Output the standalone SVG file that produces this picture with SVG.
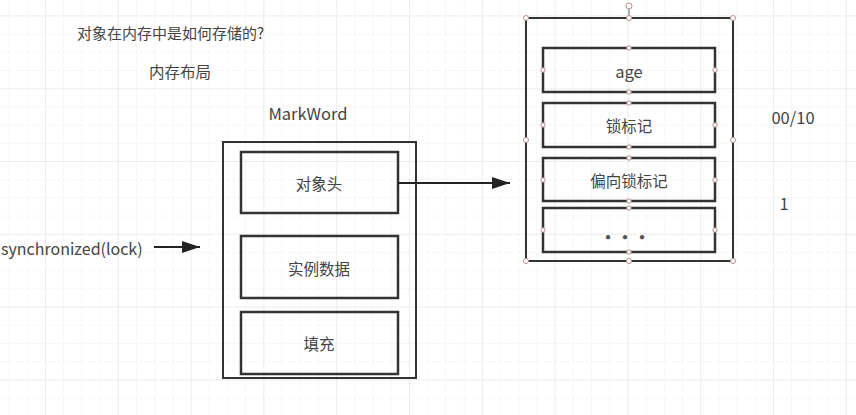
<svg xmlns="http://www.w3.org/2000/svg" width="856" height="415" viewBox="0 0 856 415">
<defs>
<pattern id="minor" x="8.6" y="15.4" width="18.2" height="18.2" patternUnits="userSpaceOnUse">
<path d="M0 0H18.2M0 0V18.2" fill="none" stroke="#f0f0f0" stroke-width="1"/>
</pattern>
<pattern id="major" x="45" y="15.4" width="72.8" height="72.8" patternUnits="userSpaceOnUse">
<path d="M0 0H72.8M0 0V72.8" fill="none" stroke="#e4e4e4" stroke-width="1"/>
</pattern>
<marker id="arr2" viewBox="0 0 18 12" refX="18" refY="6" markerWidth="18" markerHeight="12" markerUnits="userSpaceOnUse" orient="auto">
<path d="M0 0L18 6L0 12Z" fill="#222"/>
</marker>
</defs>
<style>
text{font-family:"Noto Sans CJK SC","Noto Sans",sans-serif;fill:#444;font-size:15.5px}
.c{text-anchor:middle;dominant-baseline:central}
.lat{font-size:16.5px}
.box{fill:none;stroke:#333;stroke-width:2}
.in{fill:none;stroke:#333;stroke-width:2.5}
.h{fill:#fff;stroke:#b89090;stroke-width:1}
.ln{stroke:#222;stroke-width:2;fill:none}
</style>
<rect width="856" height="415" fill="#fff"/>
<rect width="856" height="415" fill="url(#minor)"/>
<rect width="856" height="415" fill="url(#major)"/>

<g id="title"><text x="77" y="32" style="dominant-baseline:central;font-size:15px">对象在内存中是如何存储的?</text></g>
<g id="layout"><text x="180" y="71" class="c">内存布局</text></g>
<g id="markword-label"><text x="308" y="113" class="c lat">MarkWord</text></g>
<g id="sync"><text x="1" y="248" style="dominant-baseline:central;font-size:16px">synchronized(lock)</text></g>
<g id="label-0010"><text x="793" y="117" class="c lat">00/10</text></g>
<g id="label-1"><text x="784" y="203" class="c lat">1</text></g>

<g id="object">
<rect class="box" x="223" y="142" width="193" height="236"/>
</g>
<g id="header"><rect class="in" x="241" y="152" width="157" height="61"/><text x="319" y="183" class="c">对象头</text></g>
<g id="instance"><rect class="in" x="241" y="236" width="157" height="62"/><text x="319" y="268" class="c">实例数据</text></g>
<g id="padding"><rect class="in" x="241" y="312" width="157" height="62"/><text x="319" y="343" class="c">填充</text></g>

<g id="markword">
<line x1="629" y1="9" x2="629" y2="18" stroke="#666" stroke-width="1"/>
<rect class="box" x="526" y="18" width="207" height="243"/>
</g>
<g id="age"><rect class="in" x="543" y="48" width="172" height="44"/><text x="629" y="71" class="c lat">age</text></g>
<g id="lock"><rect class="in" x="543" y="103" width="172" height="44"/><text x="629" y="125" class="c">锁标记</text></g>
<g id="biased"><rect class="in" x="543" y="158" width="172" height="43"/><text x="629" y="180" class="c">偏向锁标记</text></g>
<g id="more"><rect class="in" x="543" y="208" width="172" height="44"/><text x="625" y="236" class="c" style="font-size:17px;font-weight:bold;fill:#555">···</text></g>

<g id="connectors">
<line class="ln" x1="398" y1="183" x2="510" y2="183" marker-end="url(#arr2)"/>
<line class="ln" x1="154" y1="247" x2="200" y2="247" marker-end="url(#arr2)"/>
</g>

<g id="handles">
<circle class="h" cx="629" cy="6" r="3"/>
<circle class="h" cx="526" cy="18" r="2.5"/><circle class="h" cx="629" cy="18" r="2.5"/><circle class="h" cx="733" cy="18" r="2.5"/>
<circle class="h" cx="526" cy="140" r="2.5"/><circle class="h" cx="733" cy="140" r="2.5"/>
<circle class="h" cx="526" cy="261" r="2.5"/><circle class="h" cx="629" cy="261" r="2.5"/><circle class="h" cx="733" cy="261" r="2.5"/>
<circle class="h" cx="629" cy="48" r="2.2"/><circle class="h" cx="543" cy="70" r="2.2"/><circle class="h" cx="715" cy="70" r="2.2"/><circle class="h" cx="629" cy="92" r="2.2"/>
<circle class="h" cx="629" cy="103" r="2.2"/><circle class="h" cx="543" cy="125" r="2.2"/><circle class="h" cx="715" cy="125" r="2.2"/><circle class="h" cx="629" cy="147" r="2.2"/>
<circle class="h" cx="629" cy="158" r="2.2"/><circle class="h" cx="543" cy="180" r="2.2"/><circle class="h" cx="715" cy="180" r="2.2"/><circle class="h" cx="629" cy="201" r="2.2"/>
<circle class="h" cx="629" cy="208" r="2.2"/><circle class="h" cx="543" cy="230" r="2.2"/><circle class="h" cx="715" cy="230" r="2.2"/><circle class="h" cx="629" cy="252" r="2.2"/>
</g>
</svg>
